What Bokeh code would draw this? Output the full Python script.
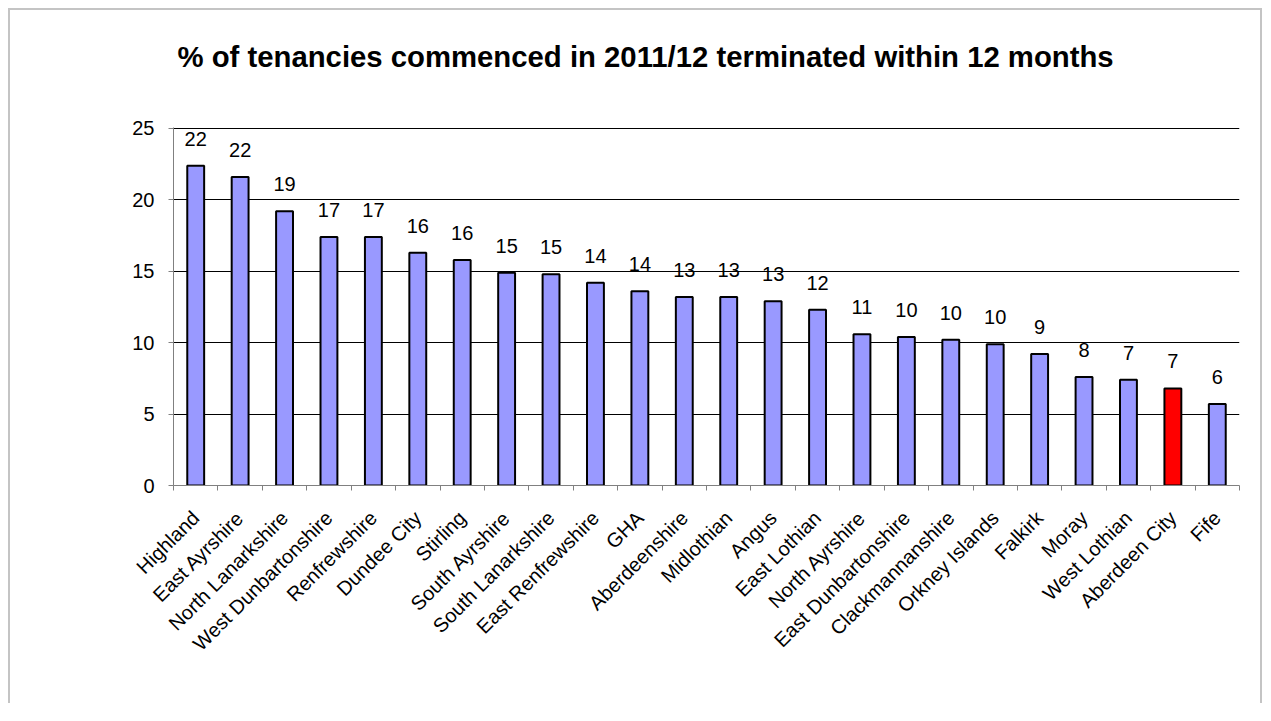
import math
from bokeh.plotting import figure
from bokeh.models import FactorRange, Range1d, LinearAxis, FixedTicker, ColumnDataSource
from bokeh.embed import file_html
from bokeh.resources import INLINE
from bokeh.core.properties import value

title_text = "% of tenancies commenced in 2011/12 terminated within 12 months"

categories = ["Highland", "East Ayrshire", "North Lanarkshire", "West Dunbartonshire",
              "Renfrewshire", "Dundee City", "Stirling", "South Ayrshire",
              "South Lanarkshire", "East Renfrewshire", "GHA", "Aberdeenshire",
              "Midlothian", "Angus", "East Lothian", "North Ayrshire",
              "East Dunbartonshire", "Clackmannanshire", "Orkney Islands", "Falkirk",
              "Moray", "West Lothian", "Aberdeen City", "Fife"]
values = [22.4, 21.6, 19.2, 17.4, 17.4, 16.3, 15.8, 14.9, 14.8, 14.2, 13.6, 13.2,
          13.2, 12.9, 12.3, 10.6, 10.4, 10.2, 9.9, 9.2, 7.6, 7.4, 6.8, 5.7]
highlight = "Aberdeen City"
y_ticks = [0, 5, 10, 15, 20, 25]

FONT = "Liberation Sans"
BASE = "#9999FF"
HL = "#FF0000"

colors = [HL if c == highlight else BASE for c in categories]
labels = [f"{v:.0f}" for v in values]
src = ColumnDataSource(dict(cat=categories, val=values, color=colors, lab=labels))

# top of range slightly above 25 so that the 25 gridline is drawn inside the frame
p = figure(x_range=FactorRange(factors=categories), y_range=Range1d(0, 25.07),
           width=1254, height=695, output_backend="svg", toolbar_location=None,
           x_axis_location=None, y_axis_location="left",
           min_border_left=163, min_border_right=25, min_border_top=117,
           min_border_bottom=220, title=title_text + "\n ")
p.styles = {"border-top": "2px solid #c4c4c4", "border-left": "2px solid #c4c4c4",
            "border-right": "2px solid #c4c4c4",
            "margin-left": "8px", "margin-top": "8px"}
p.outline_line_color = None
p.background_fill_color = "white"
p.border_fill_color = "white"

p.title.text_font = FONT
p.title.text_font_size = "29.3px"
p.title.text_font_style = "bold"
p.title.text_color = "black"
p.title.align = "left"
p.title.offset = 4
p.title.vertical_align = "top"
p.title.standoff = 39

# y axis
p.yaxis.ticker = FixedTicker(ticks=y_ticks)
p.yaxis.axis_line_color = "#808080"
p.yaxis.major_tick_line_color = "#808080"
p.yaxis.major_tick_out = 5
p.yaxis.major_tick_in = 0
p.yaxis.minor_tick_line_color = None
p.yaxis.major_label_standoff = 14
p.yaxis.major_label_text_font = FONT
p.yaxis.major_label_text_font_size = "20px"
p.yaxis.major_label_text_color = "black"

p.ygrid.ticker = FixedTicker(ticks=y_ticks)
p.ygrid.grid_line_color = "black"
p.ygrid.grid_line_width = 1
p.xgrid.visible = False

# x axis: labels at category centres, ticks at category boundaries
n = len(categories)
centers = [i + 0.5 for i in range(n)]
bounds = list(range(n + 1))
xaxis = LinearAxis(ticker=FixedTicker(ticks=centers, minor_ticks=bounds),
                   major_label_overrides={c: lab for c, lab in zip(centers, categories)},
                   major_label_orientation=math.pi / 4)
xaxis.axis_line_color = "#808080"
xaxis.major_tick_line_color = None
xaxis.minor_tick_line_color = "#808080"
xaxis.minor_tick_out = 5
xaxis.minor_tick_in = 0
xaxis.major_label_standoff = 23
xaxis.major_label_text_font = FONT
xaxis.major_label_text_font_size = "20px"
xaxis.major_label_text_color = "black"
p.add_layout(xaxis, "below")

p.vbar(x="cat", top="val", width=0.38, bottom=0, source=src,
       fill_color="color", line_color="black", line_width=2)

p.text(x="cat", y="val", text="lab", source=src, text_align="center",
       text_baseline="alphabetic", y_offset=-27,
       text_font=value(FONT), text_font_size="20px", text_color="black")

open("out.html", "w").write(file_html(p, INLINE))
